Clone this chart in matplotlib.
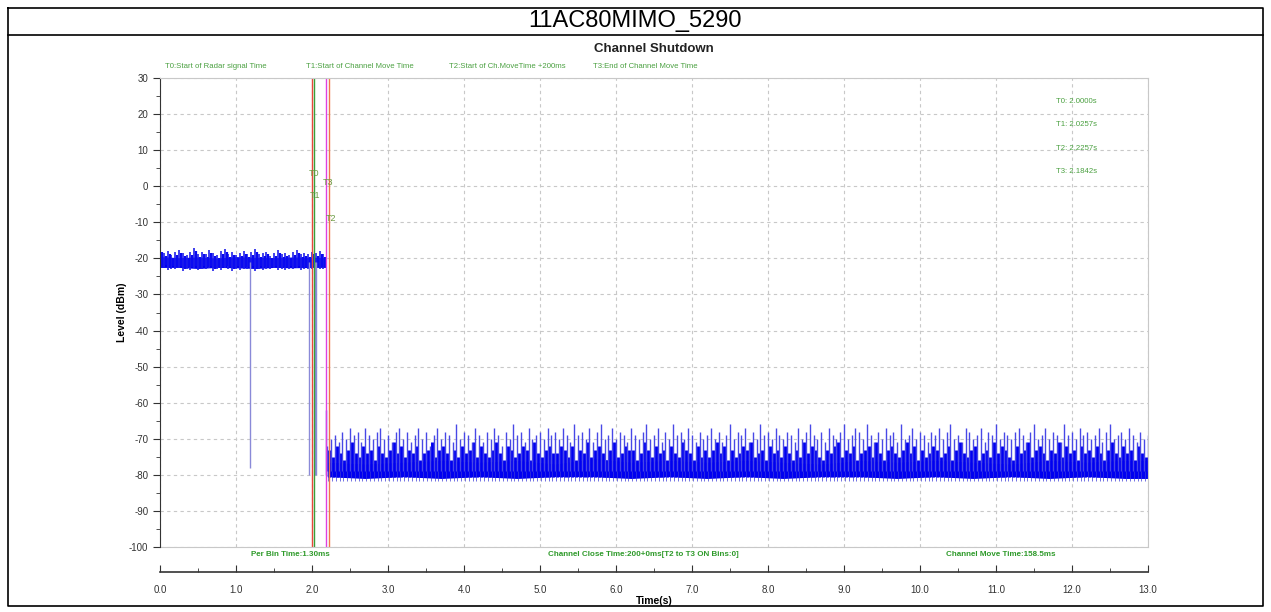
import numpy as np
import matplotlib.pyplot as plt
from matplotlib.lines import Line2D
from matplotlib.ticker import MultipleLocator, FormatStrFormatter

plt.rcParams['font.family'] = ['Liberation Sans', 'DejaVu Sans']
plt.rcParams['axes.unicode_minus'] = False

chart_title = '11AC80MIMO_5290'
sub_title = 'Channel Shutdown'

# markers
marker_names = ['T0', 'T1', 'T2', 'T3']
marker_times = [2.0000, 2.0257, 2.2257, 2.1842]
marker_colors = ['#e8483c', '#3aa03a', '#f07848', '#e040e0']
marker_label_y = [3.5, -2.5, -9.0, 1.0]
legend_texts = ['T0:Start of Radar signal Time', 'T1:Start of Channel Move Time',
                'T2:Start of Ch.MoveTime +200ms', 'T3:End of Channel Move Time']
result_texts = ['T0: 2.0000s', 'T1: 2.0257s', 'T2: 2.2257s', 'T3: 2.1842s']
footer_texts = ['Per Bin Time:1.30ms', 'Channel Close Time:200+0ms[T2 to T3 ON Bins:0]',
                'Channel Move Time:158.5ms']

# radar-on segment (0 .. 2.19 s), peaks every 50 ms
seg1_start, seg1_step = 0.0, 0.05
seg1_peak = [-17.5, -18.5, -18.0, -19.0, -18.2, -17.8, -18.6, -19.0, -18.3, -17.2,
             -18.8, -18.1, -18.9, -17.6, -18.4, -19.1, -18.0, -17.4, -18.7, -18.2,
             -19.0, -18.5, -17.9, -18.8, -18.3, -17.5, -18.9, -18.6, -18.1, -19.2,
             -18.4, -17.8, -18.9, -18.5, -19.1, -18.2, -17.7, -18.8, -18.4, -18.9,
             -18.1, -18.6, -17.9, -18.7]
seg1_trough = [-23.0, -22.5, -23.2, -22.8, -23.0, -22.6, -23.4, -22.9, -23.1, -22.7,
               -23.3, -22.8, -23.0, -22.6, -23.5, -22.9, -23.1, -22.7, -23.0, -23.6,
               -22.8, -23.2, -22.9, -23.0, -22.7, -23.4, -22.8, -23.1, -22.9, -23.0,
               -22.6, -23.3, -22.9, -23.1, -22.8, -23.0, -22.7, -23.2, -22.9, -23.0,
               -22.8, -23.1, -22.9, -23.0]
core1_t = [0.0, 0.25, 0.5, 0.75, 1.0, 1.25, 1.5, 1.75, 2.0, 2.19]
core1_low = [-22.5, -22.5, -22.8, -22.5, -22.6, -22.8, -22.5, -22.6, -22.5, -22.5]
core1_top = [-19.5, -19.8, -19.6, -19.9, -19.5, -19.7, -19.8, -19.6, -19.7, -19.7]

# dropouts in the radar-on part
drop_times = [1.19, 1.96, 2.035, 2.05]
drop_levels = [-78, -80, -80, -80]

# channel-off segment (2.2 .. 13.0 s), peaks every 50 ms
seg2_start, seg2_step = 2.20, 0.05
seg2_peak = [-72, -70, -69, -71, -68, -70, -67, -69, -68, -71, -67, -69, -70, -68, -67, -70, -69, -71, -68, -67,
             -70, -68, -71, -69, -67, -70, -68, -72, -69, -67, -70, -68, -69, -71, -66, -70, -68, -69, -71, -67,
             -69, -71, -68, -70, -67, -69, -72, -68, -70, -66, -69, -68, -71, -67, -70, -69, -68, -70, -67, -69,
             -68, -70, -67, -69, -71, -66, -69, -68, -70, -67, -71, -68, -66, -70, -69, -67, -70, -68, -69, -71,
             -67, -69, -70, -68, -66, -70, -69, -67, -71, -68, -70, -66, -69, -68, -70, -67, -69, -71, -68, -70,
             -69, -67, -70, -68, -71, -69, -66, -70, -68, -69, -67, -71, -68, -70, -66, -69, -68, -70, -67, -69,
             -70, -68, -69, -71, -67, -70, -68, -66, -69, -70, -68, -71, -67, -69, -70, -68, -66, -70, -69, -67,
             -68, -70, -66, -69, -71, -68, -70, -67, -69, -68, -71, -66, -70, -69, -67, -70, -68, -69, -71, -68,
             -69, -67, -70, -68, -66, -70, -69, -71, -67, -68, -70, -69, -67, -71, -68, -69, -66, -70, -68, -69,
             -70, -68, -67, -69, -71, -68, -66, -70, -69, -67, -70, -68, -69, -71, -66, -69, -68, -70, -67, -69,
             -68, -70, -69, -67, -71, -68, -66, -70, -69, -68, -70, -67, -69, -71, -68, -70, -69]
# secondary (lower) peaks between the main ones
seg2_mid = [-73, -75, -72, -74, -76, -73, -71, -74, -75, -72, -74, -73, -76, -72, -74, -75, -73, -71, -74, -72,
            -75, -73, -74, -72, -76, -74, -73, -71, -75, -73, -72, -74, -76, -73, -75, -72, -74, -73, -71, -75,
            -72, -74, -75, -73, -71, -74, -76, -72, -73, -75, -74, -72, -73, -76, -71, -74, -75, -73, -72, -74,
            -74, -72, -73, -75, -72, -76, -73, -74, -71, -75, -73, -72, -74, -76, -73, -71, -75, -74, -72, -73,
            -73, -76, -74, -71, -73, -75, -72, -74, -73, -76, -72, -74, -75, -71, -73, -74, -76, -72, -75, -73,
            -75, -73, -71, -74, -72, -76, -73, -75, -74, -72, -73, -71, -75, -74, -73, -76, -72, -74, -73, -75,
            -72, -74, -76, -73, -75, -71, -74, -72, -73, -75, -76, -73, -74, -72, -71, -75, -73, -74, -72, -76,
            -74, -73, -72, -75, -71, -74, -76, -73, -72, -74, -75, -73, -71, -74, -72, -76, -73, -75, -74, -72,
            -73, -75, -74, -72, -76, -73, -71, -74, -75, -73, -72, -76, -74, -73, -75, -71, -74, -72, -73, -75,
            -76, -72, -74, -73, -71, -75, -73, -72, -74, -76, -73, -74, -71, -75, -72, -74, -73, -76, -72, -74,
            -73, -75, -72, -74, -76, -73, -71, -74, -75, -72, -74, -73, -76, -72, -74, -75, -73]
core2_t = [2.2, 2.7, 3.2, 3.7, 4.2, 4.7, 5.2, 5.7, 6.2, 6.7, 7.2, 7.7,
           8.2, 8.7, 9.2, 9.7, 10.2, 10.7, 11.2, 11.7, 12.2, 12.7, 13.0]
core2_low = [-80.5, -81, -80.5, -81, -80.5, -81, -80.5, -80.5, -81, -80.5, -81, -80.5,
             -81, -80.5, -80.5, -81, -80.5, -81, -80.5, -81, -80.5, -81, -81]
core2_top = [-76.5, -77, -76.5, -76, -76.5, -76, -77, -75.5, -76.5, -76, -76.5, -76,
             -76.5, -77, -76, -76.5, -76, -76.5, -77, -76, -76.5, -76, -76]
first_off_time, first_off_level = 2.19, -62

fig = plt.figure(figsize=(12.71, 6.12), dpi=100)

# outer frame and title row
fig.add_artist(Line2D([0.006, 0.994, 0.994, 0.006, 0.006], [0.987, 0.987, 0.01, 0.01, 0.987],
                      color='black', lw=1.2, transform=fig.transFigure))
fig.add_artist(Line2D([0.006, 0.994], [0.943, 0.943], color='black', lw=1.2, transform=fig.transFigure))
fig.text(0.5, 0.966, chart_title, ha='center', va='center', fontsize=17)

ax = fig.add_axes([0.1259, 0.1062, 0.7773, 0.7663])
ax.set_xlim(0, 13)
ax.set_ylim(-100, 30)

# traces
t1 = seg1_start + seg1_step * np.arange(len(seg1_peak))
ax.fill_between(core1_t, core1_low, core1_top, color='#0000f0', lw=0)
ax.vlines(t1, seg1_trough, seg1_peak, color='#2020ea', lw=1.2)
ax.vlines(t1 + 0.025, np.array(seg1_trough) + 0.6, np.array(seg1_peak) - 0.8, color='#0a0af0', lw=1.6)
ax.vlines(drop_times, -21, drop_levels, color='#8a8ad8', lw=1.0)

t2 = seg2_start + seg2_step * np.arange(len(seg2_peak))
ax.fill_between(core2_t, core2_low, core2_top, color='#0000f0', lw=0)
ax.vlines(t2 + 0.025, -80.5, seg2_mid, color='#0000f0', lw=2.1)
ax.vlines(t2, -79, seg2_peak, color='#4848e6', lw=1.0)
ax.vlines(t2 + 0.0125, -81.6, -79, color='#3a3ad8', lw=0.5)
ax.vlines([first_off_time], -80, [first_off_level], color='#5050e0', lw=1.0)

# marker lines and labels
for name, t, c, ly in zip(marker_names, marker_times, marker_colors, marker_label_y):
    ax.axvline(t, color=c, lw=1.0)
    ax.text(t + 0.02, ly, name, color='#6a9a40', fontsize=6.5, ha='center', va='center')

# legend texts above the plot
for x, s in zip([0.005, 0.148, 0.293, 0.438], legend_texts):
    ax.text(x, 1.024, s, transform=ax.transAxes, color='#4aa040', fontsize=5.6, ha='left', va='center')
ax.text(0.5, 1.062, sub_title, transform=ax.transAxes, ha='center', va='center',
        fontsize=9.5, fontweight='bold', color='#222222')

# results at the right
for y, s in zip([23.6, 17.0, 10.6, 4.2], result_texts):
    ax.text(12.33, y, s, color='#4aa040', fontsize=5.6, ha='right', va='center')

# footer texts
for x, s in zip([0.132, 0.489, 0.851], footer_texts):
    ax.text(x, -0.016, s, transform=ax.transAxes, color='#2e9a2a', fontsize=5.8,
            fontweight='bold', ha='center', va='center')

# axes styling
ax.grid(True, which='major', color='#c8c8c8', ls=(0, (3, 3)), lw=0.8)
ax.set_axisbelow(True)
for side in ['top', 'right']:
    ax.spines[side].set_color('#c8c8c8')
ax.spines['left'].set_color('#333333')
ax.spines['bottom'].set_position(('outward', 18))
ax.spines['bottom'].set_color('#333333')
ax.spines['bottom'].set_linewidth(1.2)
ax.add_artist(Line2D([0, 1], [0, 0], transform=ax.transAxes, color='#c8c8c8', lw=0.8, clip_on=False))

ax.xaxis.set_major_locator(MultipleLocator(1))
ax.xaxis.set_minor_locator(MultipleLocator(0.5))
ax.xaxis.set_major_formatter(FormatStrFormatter('%.1f'))
ax.yaxis.set_major_locator(MultipleLocator(10))
ax.yaxis.set_minor_locator(MultipleLocator(5))
ax.tick_params(axis='x', which='major', direction='in', length=5, labelsize=7, pad=9, colors='#333333')
ax.tick_params(axis='x', which='minor', direction='in', length=3, colors='#333333')
ax.tick_params(axis='y', which='major', direction='out', length=5, labelsize=7, colors='#333333')
ax.tick_params(axis='y', which='minor', direction='out', length=3, colors='#333333')

ax.set_xlabel('Time(s)', fontsize=7.5, fontweight='bold', labelpad=1)
ax.set_ylabel('Level (dBm)', fontsize=7.5, fontweight='bold')
ax.yaxis.set_label_coords(-0.033, 0.5)

fig.savefig('out.png', dpi=100)
